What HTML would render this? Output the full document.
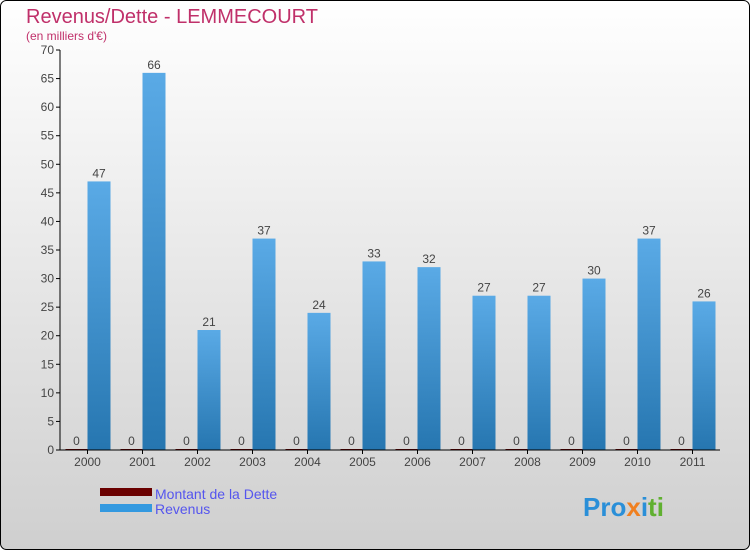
<!DOCTYPE html>
<html><head><meta charset="utf-8"><style>
body{margin:0}
svg{display:block;font-family:"Liberation Sans",sans-serif}
</style></head><body>
<svg width="750" height="550" xmlns="http://www.w3.org/2000/svg">
<defs>
<linearGradient id="bg" x1="0" y1="0" x2="0" y2="1"><stop offset="0" stop-color="#ffffff"/><stop offset="1" stop-color="#cfcfcf"/></linearGradient>
<linearGradient id="bar" x1="0" y1="0" x2="0" y2="1"><stop offset="0" stop-color="#5aaae6"/><stop offset="1" stop-color="#2676b0"/></linearGradient>
</defs>
<rect x="0.5" y="0.5" width="749" height="549" rx="6" fill="url(#bg)" stroke="#000"/>
<text x="26" y="23" font-size="20" fill="#c0306a">Revenus/Dette - LEMMECOURT</text>
<text x="26" y="40" font-size="12" fill="#c0306a">(en milliers d'€)</text>
<g id="plot"></g>
<rect x="100" y="488" width="52" height="8" fill="#6a0000"/>
<text x="155" y="499" font-size="14" fill="#5555ee">Montant de la Dette</text>
<rect x="100" y="504" width="52" height="8" fill="#3399e0"/>
<text x="155" y="514" font-size="14" fill="#5555ee">Revenus</text>
<text x="583" y="516" font-size="26" font-weight="bold"><tspan fill="#2a8fd8">Pro</tspan><tspan fill="#f08020">x</tspan><tspan fill="#2a8fd8">i</tspan><tspan fill="#60b030">ti</tspan></text>
</svg>
<script>
const years=["2000","2001","2002","2003","2004","2005","2006","2007","2008","2009","2010","2011"];
const revenus=[47,66,21,37,24,33,32,27,27,30,37,26];
const dette=[0,0,0,0,0,0,0,0,0,0,0,0];
const yTicks=[0,5,10,15,20,25,30,35,40,45,50,55,60,65,70];
const NS="http://www.w3.org/2000/svg";
const g=document.getElementById('plot');
const x0=60,x1=720,y0=450,yTop=50,yMax=70;
const band=(x1-x0)/years.length;
const y=v=>y0-(v/yMax)*(y0-yTop);
const cx=i=>x0+band*(i+0.5);
function mk(t,a,txt){const e=document.createElementNS(NS,t);for(const k in a)e.setAttribute(k,a[k]);if(txt!=null)e.textContent=txt;g.appendChild(e);return e;}
yTicks.forEach(v=>{
 const l=mk('line',{x1:x0-4,x2:x0,y1:y(v),y2:y(v),stroke:'#000'});
 
 
 const t=mk('text',{x:x0-6,y:y(v)+4,'text-anchor':'end','font-size':12,fill:'#444'},v);
 
 
});
years.forEach((yr,i)=>{
 const c=cx(i);
 const d=mk('rect',{x:c-22,y:y(dette[i])-1,width:22,height:y0-y(dette[i])+1,fill:'#6a0000'});
 
 
 const dl=mk('text',{x:c-11,y:y(dette[i])-5,'text-anchor':'middle','font-size':12,fill:'#444'},dette[i]);
 
 
 const r=mk('rect',{x:c,y:y(revenus[i]),width:23,height:y0-y(revenus[i]),fill:'url(#bar)'});
 
 
 const rl=mk('text',{x:c+11.5,y:y(revenus[i])-4,'text-anchor':'middle','font-size':12,fill:'#444'},revenus[i]);
 
 
 const tk=mk('line',{x1:c,x2:c,y1:y0,y2:y0+4,stroke:'#000'});
 
 
 const xl=mk('text',{x:c,y:y0+16,'text-anchor':'middle','font-size':12,fill:'#444'},yr);
 
 
});
const ya=mk('line',{x1:x0,x2:x0,y1:yTop,y2:y0,stroke:'#000'});


const xa=mk('line',{x1:x0,x2:x1,y1:y0,y2:y0,stroke:'#000'});


</script>
</body></html>
